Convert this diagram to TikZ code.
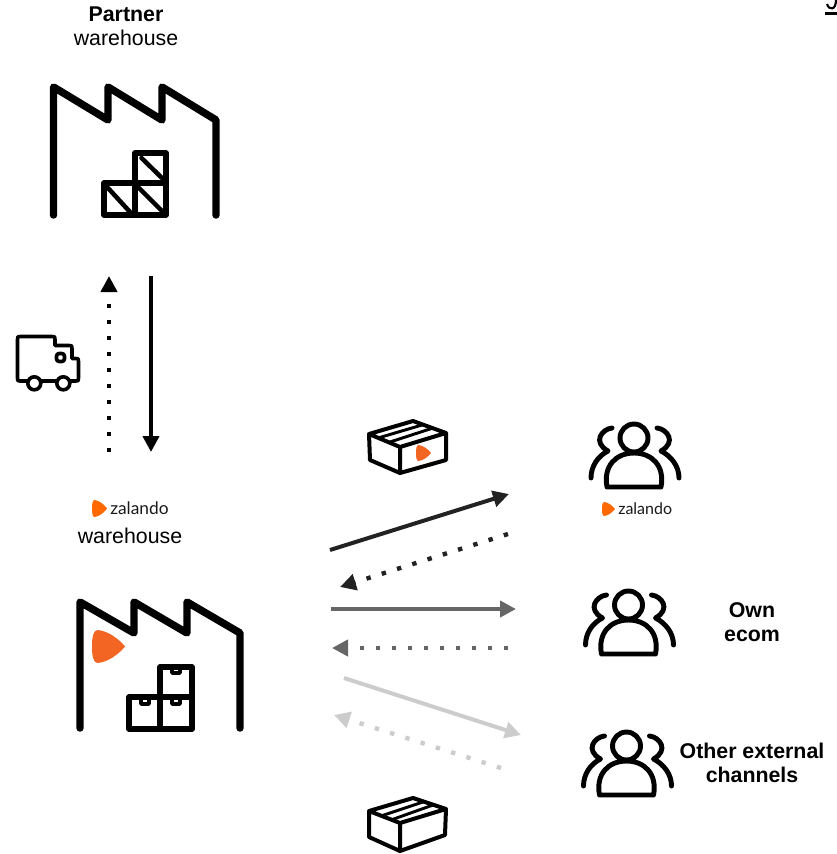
\documentclass[tikz,border=0pt]{standalone}
\usepackage{fontspec}
\setmainfont{Liberation Sans}
\newfontfamily\zfont{Lato}
\usetikzlibrary{arrows.meta}
\definecolor{zorange}{HTML}{F26522}
\definecolor{zbright}{HTML}{FF6900}
\definecolor{arrowdark}{HTML}{222222}
\definecolor{arrowmid}{HTML}{666666}
\definecolor{arrowlight}{HTML}{CCCCCC}
\newcommand{\zlogo}[5]{%
  \fill[#5,shift={(#1,#2)},xscale=#3,yscale=#4]
    (0.17,0) .. controls (0.5,0.03) and (0.82,0.28) .. (1,0.5)
    .. controls (0.82,0.72) and (0.5,0.97) .. (0.17,1)
    .. controls (0.03,1) and (0,0.75) .. (0,0.5)
    .. controls (0,0.25) and (0.03,0) .. (0.17,0) -- cycle;}
\tikzset{
  label text/.style={font=\fontsize{16}{18}\selectfont,align=center,inner sep=0pt,text=black},
  bold text/.style={label text,font=\fontsize{16}{18}\selectfont\bfseries},
  zal text/.style={font=\zfont\fontsize{#1}{#1}\selectfont,inner sep=0pt,text=black!90,anchor=west},
  heavy/.style={draw=black,line width=5.6pt,line cap=round,line join=round},
  crate/.style={draw=black,line width=4pt,line cap=round,line join=round},
  crate thin/.style={draw=black,line width=2.6pt,line cap=round,line join=round},
  thin icon/.style={draw=black,line width=2.7pt,line cap=round,line join=round},
  parcel/.style={draw=black,line width=3pt,line join=round,line cap=round},
  parcel tape/.style={draw=black,line width=2.2pt,line cap=round},
  link/.style={line width=#1,-{Triangle[length=12pt,width=12pt]}},
  link/.default=3pt,
  dots/.style={line width=3.3pt,dash pattern=on 3.3pt off 8.7pt,-{Triangle[length=12pt,width=12pt]}},
  people/.pic={
    \draw[draw=black,line width=3.7pt,line cap=round,line join=round]
      (0,0) circle (14)
      (-27,49) .. controls (-31,28) and (-18,15) .. (0,15)
      .. controls (18,15) and (31,28) .. (27,49) -- cycle
      (-22,-10) .. controls (-32,-9) and (-42,4) .. (-26,13)
      .. controls (-36,18) and (-43,28) .. (-43,40)
      (23,-10) .. controls (33,-9) and (43,4) .. (27,13)
      .. controls (37,18) and (45,28) .. (45,40);
  }
}
\begin{document}
\begin{tikzpicture}[x=0.75pt,y=-0.75pt]
\useasboundingbox (0,0) rectangle (837,854);

% labels
\node[label text] (partner) at (126,26) {\textbf{Partner}\\warehouse};
\node[label text] (zwh) at (130,536) {warehouse};
\node[bold text] (own) at (752,622) {Own\\ecom};
\node[bold text] (other) at (752,762.5) {Other external\\channels};

% partner warehouse
\draw[heavy] (53.5,215) -- (53.5,87) -- (108,120) -- (108,87) -- (162,120) -- (162,87) -- (216,120) -- (216,215);
\draw[crate] (135,183) -- (135,153) -- (166,153) -- (166,215) -- (104,215) -- (104,183) -- (166,183) (135,183) -- (135,215);
\draw[crate thin,line width=3.4pt] (141.5,158) -- (163,179) (108,188) -- (130,212) (139,188) -- (163,212);

% zalando warehouse
\draw[heavy] (80,728) -- (80,602) -- (134,633) -- (134,602) -- (187,633) -- (187,602) -- (240,633) -- (240,728);
\zlogo{92}{630}{33}{33}{zorange}
\draw[crate] (160,697) -- (160,667) -- (192,667) -- (192,729) -- (129,729) -- (129,697) -- (192,697) (160,697) -- (160,729);
\draw[crate thin] (172,668) -- (172,673) -- (180,673) -- (180,668)
  (141,698) -- (141,704) -- (149,704) -- (149,698)
  (172,698) -- (172,704) -- (180,704) -- (180,698);

% truck
\draw[thin icon] (27.5,381) -- (20,381) .. controls (17.5,381) and (17.5,381) .. (17.5,378) -- (17.5,339.5) .. controls (17.5,336.5) and (17.5,336.5) .. (20.5,336.5) -- (52,336.5) .. controls (55,336.5) and (55,336.5) .. (55,339.5) -- (55,345.5) -- (69,345.5) .. controls (72,345.5) and (72,345.5) .. (72,348.5) -- (72,358.5) -- (75.5,358.5) .. controls (78.5,358.5) and (78.5,358.5) .. (78.5,361.5) -- (78.5,378) .. controls (78.5,381) and (78.5,381) .. (75.5,381) -- (70,381)
  (41,381) -- (57,381);
\draw[thin icon] (34.3,383.3) circle (6.5) (63.3,383.3) circle (6.5);
\draw[thin icon,rounded corners=2pt] (56.5,353.5) rectangle (64.5,361.5);

% vertical links
\coordinate (vup a) at (109,452);
\coordinate (vup b) at (109,276);
\coordinate (vdn a) at (151,276);
\coordinate (vdn b) at (151,452);
\draw[dots,draw=black] (vup a) -- (vup b);
\draw[link=3.5pt,draw=black] (vdn a) -- (vdn b);

% zalando logos with wordmark
\zlogo{92}{500}{15}{17}{zbright}
\node[zal text=13] (zal a) at (110,508.5) {zalando};
\zlogo{602}{502}{13}{14}{zbright}
\node[zal text=12] (zal b) at (618,508.5) {zalando};

% parcels
\draw[parcel] (369,434) -- (413,421) -- (446,433) -- (400,447) -- cycle
  (369,434) -- (370,460) -- (400,473) -- (446,460) -- (446,433) (400,447) -- (400,473);
\draw[parcel tape] (378,438) -- (422,425) (390,442) -- (433,428);
\zlogo{416}{445}{15}{16}{zorange}
\draw[parcel] (369,811) -- (413,798) -- (446,809) -- (400,823) -- cycle
  (369,811) -- (369,837) -- (400,851) -- (445,835) -- (446,809) (400,823) -- (400,851);
\draw[parcel tape] (381,816) -- (423,802) (391,820) -- (433,805);

% people
\pic (pa) at (634,438) {people};
\pic (pb) at (628.5,605) {people};
\pic (pc) at (626.5,746) {people};

% channel links
\coordinate (a1) at (330,550); \coordinate (b1) at (509,494);
\coordinate (a2) at (508,534); \coordinate (b2) at (340,587);
\coordinate (a3) at (331,609); \coordinate (b3) at (516,609);
\coordinate (a4) at (508,648); \coordinate (b4) at (332,648);
\coordinate (a5) at (344,678); \coordinate (b5) at (521,735);
\coordinate (a6) at (501,768); \coordinate (b6) at (334,715);
\draw[link=3pt,draw=arrowdark] (a1) -- (b1);
\draw[dots,draw=arrowdark] (a2) -- (b2);
\draw[link=3pt,draw=arrowmid] (a3) -- (b3);
\draw[dots,draw=arrowmid] (a4) -- (b4);
\draw[link=3pt,draw=arrowlight] (a5) -- (b5);
\draw[dots,draw=arrowlight] (a6) -- (b6);

% clipped mark at the page corner
\begin{scope}
\clip (0,0) rectangle (837,854);
\draw[draw=black,line width=1.6pt] (827,4) .. controls (829,10.5) and (836,10.5) .. (836,0);
\draw[draw=black,line width=1.9pt] (825,13.5) -- (837,13.5);
\end{scope}
\end{tikzpicture}
\end{document}
